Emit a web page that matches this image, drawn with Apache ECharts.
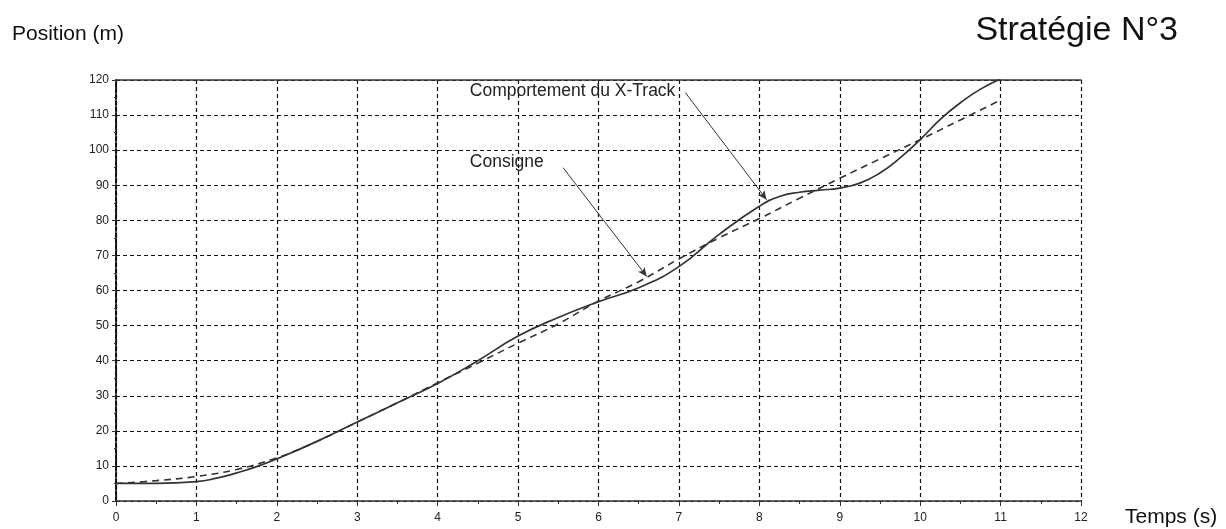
<!DOCTYPE html>
<html>
<head>
<meta charset="utf-8">
<script src="https://cdn.jsdelivr.net/npm/echarts@6/dist/echarts.min.js"></script>
<style>
html,body{margin:0;padding:0;background:#fff;}
#c{width:1226px;height:529px;}
</style>
</head>
<body>
<div id="c"></div>
<script>
// Data
const consigneX = [0,0.5,1,1.5,2,2.5,3,3.5,4,4.5,5,5.5,6,6.5,7,7.5,8,8.5,9,9.5,10,10.5,11];
const consigneY = [5,5.8,7,9,12.3,17,22.5,28,33.7,39.3,45,50.5,57,62.5,69,75,80.5,86.3,92,97.5,103,108.6,114.3];
const xtrackX = [0,0.5,1,1.25,1.5,1.75,2,2.5,3,3.5,4,4.5,5,5.5,6,6.5,7,7.5,8,8.25,8.5,8.75,9,9.25,9.5,9.75,10,10.25,10.5,10.75,11];
const xtrackY = [5,5,5.5,6.5,8,9.8,12,17,22.5,28,33.5,40,47,52.3,56.8,60.8,66.8,76,84,86.8,88,88.6,89.2,90.6,93.5,97.8,103,108.8,113.5,117.4,120.3];
const xTicks = [0,1,2,3,4,5,6,7,8,9,10,11,12];
const yTicks = [0,10,20,30,40,50,60,70,80,90,100,110,120];
// annotations (data space)
const annXtrack = {text:'Comportement du X-Track', textAt:[4.4,116.7], from:[7.08,116.4], to:[8.09,85.9]};
const annConsigne = {text:'Consigne', textAt:[4.4,96.7], from:[5.56,95.0], to:[6.60,64.0]};

const pair = (xs, ys) => xs.map((x,i)=>[x, ys[i]]);
const font = 'Liberation Sans, Arial, sans-serif';
const grid = {left:116, right:145, top:80, bottom:28, containLabel:false};

const chart = echarts.init(document.getElementById('c'), null, {renderer:'canvas'});
chart.setOption({
  animation:false,
  backgroundColor:'#fff',
  grid: grid,
  title:[
    {text:'Stratégie N°3', right:43, top:9, textStyle:{fontFamily:font, fontSize:34, fontWeight:'normal', color:'#111'}},
    {text:'Position (m)', left:7, top:19, textStyle:{fontFamily:font, fontSize:21, fontWeight:'normal', color:'#111'}},
    {text:'Temps (s)', left:1120, top:502, textStyle:{fontFamily:font, fontSize:21, fontWeight:'normal', color:'#111'}}
  ],
  xAxis:[{
    type:'value', min:xTicks[0], max:xTicks[xTicks.length-1], interval:1,
    axisLine:{show:true, lineStyle:{color:'#333', width:1.5}},
    axisTick:{show:true, inside:false, length:5, lineStyle:{color:'#333'}},
    minorTick:{show:true, splitNumber:2, length:3, lineStyle:{color:'#333'}},
    axisLabel:{fontFamily:font, fontSize:12, color:'#222', margin:11},
    splitLine:{show:true, lineStyle:{color:'#111', type:[4,3], width:1.2}}
  },{
    type:'value', position:'top', min:0, max:12,
    axisLine:{show:true, onZero:false, lineStyle:{color:'#333', width:1.5}},
    axisTick:{show:false}, axisLabel:{show:false}, splitLine:{show:false}
  }],
  yAxis:{
    type:'value', min:yTicks[0], max:yTicks[yTicks.length-1], interval:10,
    axisLine:{show:true, onZero:false, lineStyle:{color:'#111', width:2, type:[4,2]}},
    axisTick:{show:true, inside:false, length:4, lineStyle:{color:'#333'}},
    minorTick:{show:true, splitNumber:2, length:2, lineStyle:{color:'#333'}},
    axisLabel:{fontFamily:font, fontSize:12, color:'#222', margin:7},
    splitLine:{show:true, lineStyle:{color:'#111', type:[4,3], width:1}}
  },
  series:[
    {
      name:'Consigne', type:'line', data:pair(consigneX, consigneY),
      smooth:0.4, symbol:'none',
      lineStyle:{color:'#333', width:1.6, type:[7,5]},
      z:3
    },
    {
      name:'X-Track', type:'line', data:pair(xtrackX, xtrackY),
      smooth:0.5, symbol:'none',
      lineStyle:{color:'#333', width:1.7},
      z:4,
      markLine:{
        silent:true, animation:false,
        symbol:['none','arrow'], symbolSize:[6,9],
        lineStyle:{color:'#333', width:1, type:'solid'},
        label:{show:false},
        data:[
          [{coord:annXtrack.from},{coord:annXtrack.to}],
          [{coord:annConsigne.from},{coord:annConsigne.to}]
        ]
      },
      markPoint:{
        silent:true, animation:false, symbol:'circle', symbolSize:0,
        label:{show:true, position:'right', distance:0, fontFamily:font, fontSize:17.5, color:'#222', formatter:p=>p.name},
        data:[
          {name:annXtrack.text, coord:annXtrack.textAt},
          {name:annConsigne.text, coord:annConsigne.textAt}
        ]
      }
    }
  ]
});
</script>
</body>
</html>
